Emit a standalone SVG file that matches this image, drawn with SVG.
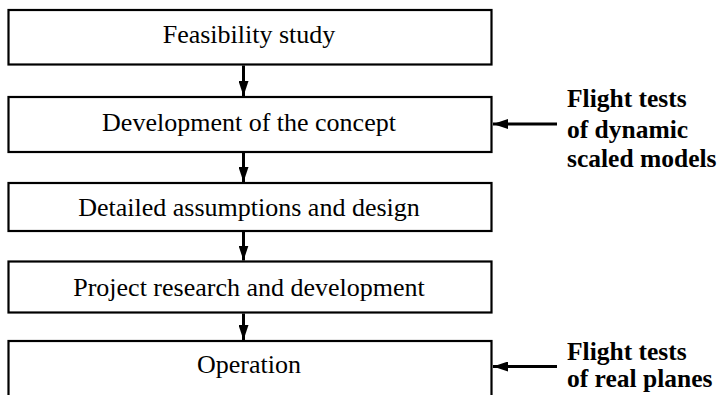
<svg xmlns="http://www.w3.org/2000/svg" width="720" height="395" viewBox="0 0 720 395">
<style>
.box{fill:#fff;stroke:#000;stroke-width:2.2}
.t{font-family:"Liberation Serif","Times New Roman",serif;font-size:26px;fill:#000;text-anchor:middle}
.lb{font-family:"Liberation Serif","Times New Roman",serif;font-size:25.5px;font-weight:bold;fill:#000}
.c{stroke:#000;stroke-width:3;fill:none}
</style>
<defs>
<marker id="ah" markerUnits="userSpaceOnUse" markerWidth="16" markerHeight="10" refX="15" refY="5" orient="auto">
<path d="M0,0 L15,5 L0,10 Z" fill="#000"/>
</marker>
</defs>
<rect width="720" height="395" fill="#fff"/>
<g id="n1"><rect class="box" x="8.5" y="10" width="483" height="54.5"/><text class="t" x="249" y="43">Feasibility study</text></g>
<g id="n2"><rect class="box" x="8.5" y="97" width="483" height="55"/><text class="t" x="249" y="131">Development of the concept</text></g>
<g id="n3"><rect class="box" x="8.5" y="183" width="483" height="48"/><text class="t" x="249" y="216">Detailed assumptions and design</text></g>
<g id="n4"><rect class="box" x="8.5" y="261.5" width="483" height="51"/><text class="t" x="249" y="296">Project research and development</text></g>
<g id="n5"><rect class="box" x="8.5" y="341" width="483" height="70"/><text class="t" x="249" y="373">Operation</text></g>
<g id="l1"><text class="lb" x="567" y="107">Flight tests</text><text class="lb" x="567" y="138">of dynamic</text><text class="lb" x="567" y="167">scaled models</text></g>
<g id="l2"><text class="lb" x="567" y="360">Flight tests</text><text class="lb" x="567" y="387">of real planes</text></g>
<g id="connectors">
<line class="c" x1="243.5" y1="65.5" x2="243.5" y2="96" marker-end="url(#ah)"/>
<line class="c" x1="243.5" y1="153" x2="243.5" y2="182" marker-end="url(#ah)"/>
<line class="c" x1="243.5" y1="232" x2="243.5" y2="260.5" marker-end="url(#ah)"/>
<line class="c" x1="243.5" y1="313.5" x2="243.5" y2="340" marker-end="url(#ah)"/>
<line class="c" x1="557" y1="124" x2="493" y2="124" marker-end="url(#ah)"/>
<line class="c" x1="557" y1="366.5" x2="493" y2="366.5" marker-end="url(#ah)"/>
</g>
</svg>
